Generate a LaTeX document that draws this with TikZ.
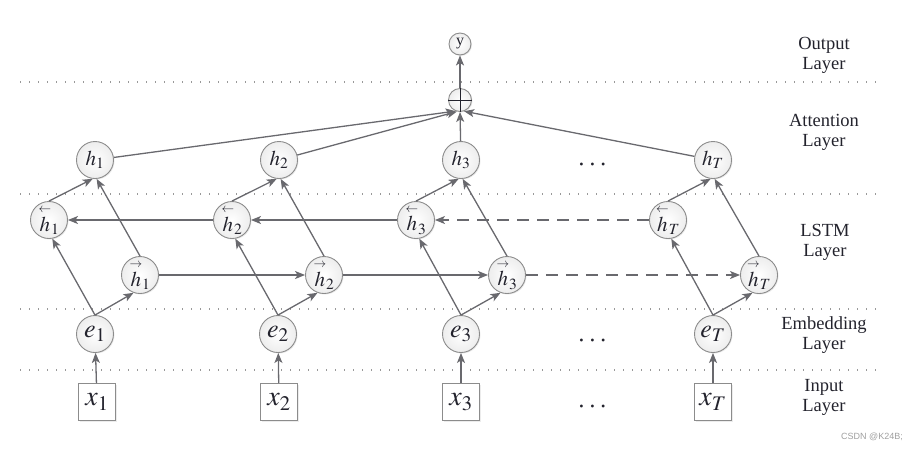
\documentclass[tikz,border=0pt]{standalone}
\usepackage{amsmath}
\usepackage{mathptmx}
\usepackage{fontspec}
\setmainfont{Liberation Serif}
\newfontfamily\wmfont{Liberation Sans}
\usetikzlibrary{arrows.meta,shadows}
\definecolor{linegray}{RGB}{105,105,110}
\definecolor{circgray}{RGB}{140,140,140}
\definecolor{txtgray}{RGB}{35,35,45}
\begin{document}
\begin{tikzpicture}[x=1pt,y=-1pt,
  conn/.style={draw=linegray, line width=1.3pt, -{Stealth[length=10pt,width=8pt,inset=2.5pt]}},
  dconn/.style={conn, dash pattern=on 12pt off 8pt},
  dotline/.style={draw=gray!80, line width=1.3pt, dash pattern=on 1.3pt off 7.7pt},
  circnode/.style={circle, draw=circgray, line width=0.9pt, inner color=white, outer color=gray!14,
    minimum size=37pt, inner sep=0pt, text=txtgray,
    drop shadow={opacity=0.18, shadow xshift=1pt, shadow yshift=-1pt}},
  hnode/.style={circnode, font=\fontsize{21}{21}\selectfont},
  enode/.style={circnode, font=\fontsize{26}{26}\selectfont},
  smallnode/.style={circnode, minimum size=22pt, font=\fontsize{16}{16}\selectfont},
  xnode/.style={rectangle, draw=circgray, line width=0.9pt, fill=white, minimum size=37pt,
    inner sep=0pt, text=txtgray, font=\fontsize{28}{28}\selectfont,
    drop shadow={opacity=0.15, shadow xshift=1pt, shadow yshift=-1pt}},
  layerlabel/.style={align=center, text=txtgray, font=\fontsize{18.5}{20}\selectfont},
  dotsnode/.style={text=txtgray, font=\fontsize{28}{28}\selectfont, inner sep=0pt}
]
\useasboundingbox (0,0) rectangle (923,451);

% dotted separators
\coordinate (s1a) at (20,82);  \coordinate (s1b) at (878,82);
\coordinate (s2a) at (20,194); \coordinate (s2b) at (878,194);
\coordinate (s3a) at (20,309); \coordinate (s3b) at (878,309);
\coordinate (s4a) at (20,370); \coordinate (s4b) at (878,370);
\draw[dotline] (s1a) -- (s1b);
\draw[dotline] (s2a) -- (s2b);
\draw[dotline] (s3a) -- (s3b);
\draw[dotline] (s4a) -- (s4b);

% output / attention
\node[smallnode] (y) at (460,44) {y};
\node[smallnode, minimum size=23pt] (plus) at (460,100) {};
\draw[txtgray, line width=1pt] (plus.north) -- (plus.south) (plus.west) -- (plus.east);

% attention-level h
\node[hnode] (h1) at (95,160) {$h_1$};
\node[hnode] (h2) at (279,160) {$h_2$};
\node[hnode] (h3) at (461,160) {$h_3$};
\node[hnode] (hT) at (713,160) {$h_T$};

% backward
\node[hnode] (bh1) at (49,220) {$\overset{\scriptscriptstyle\leftarrow}{h}_1$};
\node[hnode] (bh2) at (232,220) {$\overset{\scriptscriptstyle\leftarrow}{h}_2$};
\node[hnode] (bh3) at (416,220) {$\overset{\scriptscriptstyle\leftarrow}{h}_3$};
\node[hnode] (bhT) at (668,220) {$\overset{\scriptscriptstyle\leftarrow}{h}_T$};

% forward
\node[hnode] (fh1) at (140,275) {$\overset{\scriptscriptstyle\rightarrow}{h}_1$};
\node[hnode] (fh2) at (324,275) {$\overset{\scriptscriptstyle\rightarrow}{h}_2$};
\node[hnode] (fh3) at (507,275) {$\overset{\scriptscriptstyle\rightarrow}{h}_3$};
\node[hnode] (fhT) at (759,275) {$\overset{\scriptscriptstyle\rightarrow}{h}_T$};

% embedding
\node[enode] (e1) at (95,334) {$e_1$};
\node[enode] (e2) at (278,334) {$e_2$};
\node[enode] (e3) at (461,334) {$e_3$};
\node[enode] (eT) at (713,334) {$e_T$};

% input
\node[xnode] (x1) at (97,402) {$x_1$};
\node[xnode] (x2) at (279,402) {$x_2$};
\node[xnode] (x3) at (461,402) {$x_3$};
\node[xnode] (xT) at (713,402) {$x_T$};

% ellipses
\node[dotsnode] (d1) at (594,165) {$\cdots$};
\node[dotsnode] (d2) at (594,341) {$\cdots$};
\node[dotsnode] (d3) at (594,407) {$\cdots$};

% layer labels
\node[layerlabel] (lo) at (824,55) {Output\\Layer};
\node[layerlabel] (la) at (824,132) {Attention\\Layer};
\node[layerlabel] (ll) at (825,242) {LSTM\\Layer};
\node[layerlabel] (le) at (824,335) {Embedding\\Layer};
\node[layerlabel] (li) at (824,397) {Input\\Layer};

% watermark
\node[text=gray!75, font=\wmfont\fontsize{9}{9}\selectfont] (wm) at (872,437) {CSDN @K24B;};

% connections: input -> embedding
\foreach \i in {1,2,3,T} {
  \draw[conn] (x\i) -- (e\i);
  \draw[conn] (e\i.north) -- (bh\i.-80);
  \draw[conn] (e\i.north) -- (fh\i.-110);
  \draw[conn] (bh\i.north) -- (h\i.-97);
  \draw[conn] (fh\i.north) -- (h\i.-85);
}

% recurrent connections
\draw[conn] (fh1) -- (fh2);
\draw[conn] (fh2) -- (fh3);
\draw[dconn] (fh3) -- (fhT);
\draw[conn] (bh2) -- (bh1);
\draw[conn] (bh3) -- (bh2);
\draw[dconn] (bhT) -- (bh3);

% attention
\draw[conn] (h1) -- (plus.-112);
\draw[conn] (h2) -- (plus.-105);
\draw[conn] (h3) -- (plus.south);
\draw[conn] (hT) -- (plus.-70);
\draw[conn] (plus) -- (y);
\end{tikzpicture}
\end{document}
